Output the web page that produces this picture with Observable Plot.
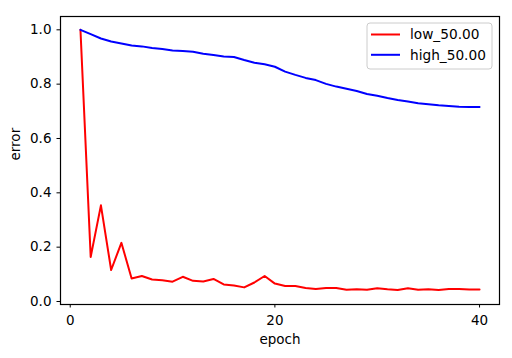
<!DOCTYPE html>
<html>
<head>
<meta charset="utf-8">
<script src="https://cdn.jsdelivr.net/npm/d3@7"></script>
<script src="https://cdn.jsdelivr.net/npm/@observablehq/plot@0.6"></script>
<style>
  html, body { margin: 0; padding: 0; background: #fff; }
  #chart { position: relative; width: 512px; height: 358px; }
  svg { font-family: "DejaVu Sans", sans-serif; }
</style>
</head>
<body>
<div id="chart"></div>
<script>
const epochs = d3.range(1, 41);
const lowValues = [1.0, 0.164, 0.354, 0.116, 0.216, 0.085, 0.094, 0.081, 0.078, 0.073,
  0.091, 0.076, 0.074, 0.083, 0.063, 0.059, 0.052, 0.070, 0.094, 0.066,
  0.057, 0.057, 0.050, 0.046, 0.050, 0.050, 0.043, 0.045, 0.043, 0.049,
  0.045, 0.042, 0.049, 0.043, 0.045, 0.042, 0.046, 0.046, 0.044, 0.044];
const highValues = [1.0, 0.984, 0.968, 0.957, 0.950, 0.942, 0.939, 0.933, 0.929, 0.924,
  0.922, 0.919, 0.912, 0.907, 0.902, 0.900, 0.889, 0.879, 0.873, 0.864,
  0.846, 0.834, 0.823, 0.815, 0.801, 0.791, 0.783, 0.775, 0.764, 0.757,
  0.749, 0.742, 0.736, 0.730, 0.726, 0.722, 0.720, 0.717, 0.716, 0.716];
const seriesNames = ["low_50.00", "high_50.00"];
const seriesColors = ["#ff0000", "#0000ff"];
const xTicks = [0, 20, 40];
const yTicks = [0.0, 0.2, 0.4, 0.6, 0.8, 1.0];

const data = [];
epochs.forEach((e, i) => {
  data.push({epoch: e, error: lowValues[i], series: seriesNames[0]});
  data.push({epoch: e, error: highValues[i], series: seriesNames[1]});
});

const plot = Plot.plot({
  width: 512,
  height: 358,
  marginLeft: 60,
  marginRight: 13,
  marginTop: 16,
  marginBottom: 54,
  style: {fontFamily: "DejaVu Sans, sans-serif", fontSize: "13px", color: "#000", background: "#fff"},
  x: {domain: [-0.95, 41.95]},
  y: {domain: [-0.011, 1.049]},
  color: {domain: seriesNames, range: seriesColors},
  marks: [
    Plot.axisX({ticks: xTicks, tickSize: 3.5, tickPadding: 7.5, fontSize: 13.5, label: null, stroke: "#000"}),
    Plot.axisY({ticks: yTicks, tickSize: 3.5, tickPadding: 5.5, fontSize: 13.5, label: null, tickFormat: d3.format(".1f"), stroke: "#000"}),
    Plot.line(data, {x: "epoch", y: "error", z: "series", stroke: "series", strokeWidth: 2, strokeLinejoin: "round"}),
    Plot.frame({stroke: "#000", strokeWidth: 1.2}),
    Plot.text(["epoch"], {frameAnchor: "bottom", dy: 39.5, fontSize: 13.5, text: d => d}),
    Plot.text(["error"], {frameAnchor: "left", dx: -44.5, rotate: -90, fontSize: 13.5, text: d => d})
  ]
});
document.getElementById("chart").appendChild(plot);

// legend in upper right (matplotlib-style box)
const svg = d3.select(plot);
const lg = svg.append("g").attr("transform", "translate(367,23)")
  .attr("text-anchor", "start");
lg.append("rect").attr("width", 125).attr("height", 46).attr("rx", 3)
  .attr("fill", "#fff").attr("fill-opacity", 0.8).attr("stroke", "#ccc");
seriesNames.forEach((name, i) => {
  const y = 11.5 + i * 20.3;
  lg.append("line").attr("x1", 4).attr("x2", 33).attr("y1", y).attr("y2", y)
    .attr("stroke", seriesColors[i]).attr("stroke-width", 2);
  lg.append("text").attr("x", 43).attr("y", y).attr("dy", "0.35em")
    .attr("font-size", 13.7).attr("fill", "#000").attr("text-anchor", "start").text(name);
});
</script>
</body>
</html>
